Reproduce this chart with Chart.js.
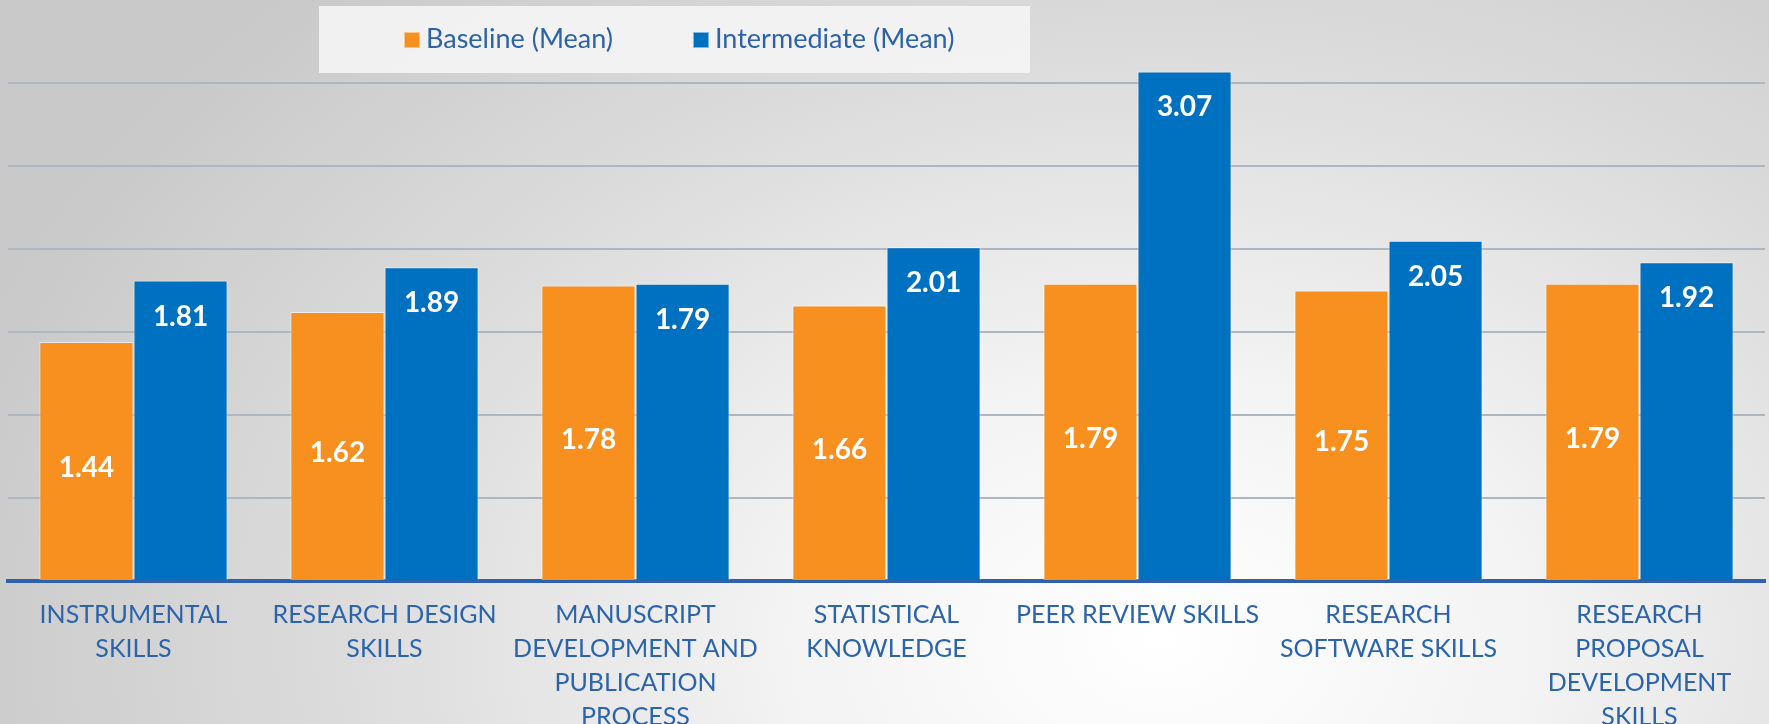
<!DOCTYPE html>
<html>
<head>
<meta charset="utf-8">
<script src="https://cdn.jsdelivr.net/npm/chart.js@4"></script>
<style>
  html, body { margin: 0; padding: 0; }
  body {
    width: 1769px; height: 724px; overflow: hidden; position: relative;
    background: radial-gradient(ellipse 1250px 900px at 1160px 640px, #ffffff 0%, #f3f3f3 30%, #dcdcdc 65%, #c9c9c9 100%);
  }
  #wrap { position: absolute; left: 0; top: 0; width: 1769px; height: 724px; }
  #legend {
    position: absolute; left: 319px; top: 6px; width: 711px; height: 67px;
    background: rgba(244,244,244,0.92);
    font-family: Lato, "Open Sans", sans-serif; font-size: 27px; color: #2b62aa;
  }
  #legend span.item { position: absolute; top: 15px; white-space: nowrap; }
  #legend i { display: inline-block; width: 16px; height: 16px; margin-right: 6px; vertical-align: 0px; border: 1px solid rgba(255,255,255,0.5); box-sizing: border-box; }
</style>
</head>
<body>
<div id="wrap"><canvas id="chart" width="1769" height="724"></canvas></div>
<div id="legend">
  <span class="item" style="left:85px"><i style="background:#f7901e"></i>Baseline (Mean)</span>
  <span class="item" style="left:374px"><i style="background:#0070c0"></i>Intermediate (Mean)</span>
</div>
<script>
(function(){
    // categories, one array of lines per label
    var categories = [
        ["INSTRUMENTAL", "SKILLS"],
        ["RESEARCH DESIGN", "SKILLS"],
        ["MANUSCRIPT", "DEVELOPMENT AND", "PUBLICATION", "PROCESS"],
        ["STATISTICAL", "KNOWLEDGE"],
        ["PEER REVIEW SKILLS"],
        ["RESEARCH", "SOFTWARE SKILLS"],
        ["RESEARCH", "PROPOSAL", "DEVELOPMENT", "SKILLS"]
    ];
    var baseline = [1.44, 1.62, 1.78, 1.66, 1.79, 1.75, 1.79];
    var intermediate = [1.81, 1.89, 1.79, 2.01, 3.07, 2.05, 1.92];
    var seriesNames = ["Baseline (Mean)", "Intermediate (Mean)"];
    var yMax = 3.5;
    var yStep = 0.5;

    // white value labels inside the bars
    var barLabels = {
        id: "barLabels",
        afterDatasetsDraw: function(chart){
            var ctx = chart.ctx;
            ctx.save();
            ctx.fillStyle = "#ffffff";
            ctx.font = "bold 28px Lato, 'Open Sans', sans-serif";
            ctx.textAlign = "center";
            ctx.textBaseline = "middle";
            chart.data.datasets.forEach(function(ds, di){
                chart.getDatasetMeta(di).data.forEach(function(bar, i){
                    var y = di === 0 ? (bar.y + bar.base) / 2 + 7 : bar.y + 36;
                    ctx.fillText(ds.data[i].toFixed(2), bar.x, y);
                });
            });
            ctx.restore();
        }
    };

    new Chart(document.getElementById("chart"), {
        type: "bar",
        data: {
            labels: categories,
            datasets: [{
                label: seriesNames[0],
                data: baseline,
                backgroundColor: "#f7901e",
                borderColor: "rgba(255,255,255,0.55)",
                borderWidth: 1
            }, {
                label: seriesNames[1],
                data: intermediate,
                backgroundColor: "#0070c0",
                borderColor: "rgba(255,255,255,0.55)",
                borderWidth: 1
            }]
        },
        options: {
            responsive: false,
            animation: false,
            layout: { padding: { left: 8, right: 4, top: 0, bottom: 0 } },
            datasets: { bar: { categoryPercentage: 0.75, barPercentage: 1.0 } },
            plugins: { legend: { display: false }, tooltip: { enabled: false } },
            scales: {
                x: {
                    grid: { display: false },
                    border: { display: true, color: "#2e62ad", width: 4 },
                    ticks: {
                        color: "#2b64ad",
                        font: { family: "Lato, 'Open Sans', sans-serif", size: 25, lineHeight: 1.36 },
                        padding: 9,
                        maxRotation: 0,
                        autoSkip: false
                    },
                    afterFit: function(scale){ scale.height = 143; }
                },
                y: {
                    min: 0,
                    max: yMax,
                    ticks: { display: false, stepSize: yStep },
                    border: { display: false },
                    grid: {
                        color: function(c){
                            var v = c.tick.value;
                            return (v === 0 || v === yMax) ? "rgba(0,0,0,0)" : "#aeb6c2";
                        },
                        lineWidth: 2,
                        drawTicks: false
                    },
                    afterFit: function(scale){ scale.width = 0; }
                }
            }
        },
        plugins: [barLabels]
    });
})();
</script>
</body>
</html>
